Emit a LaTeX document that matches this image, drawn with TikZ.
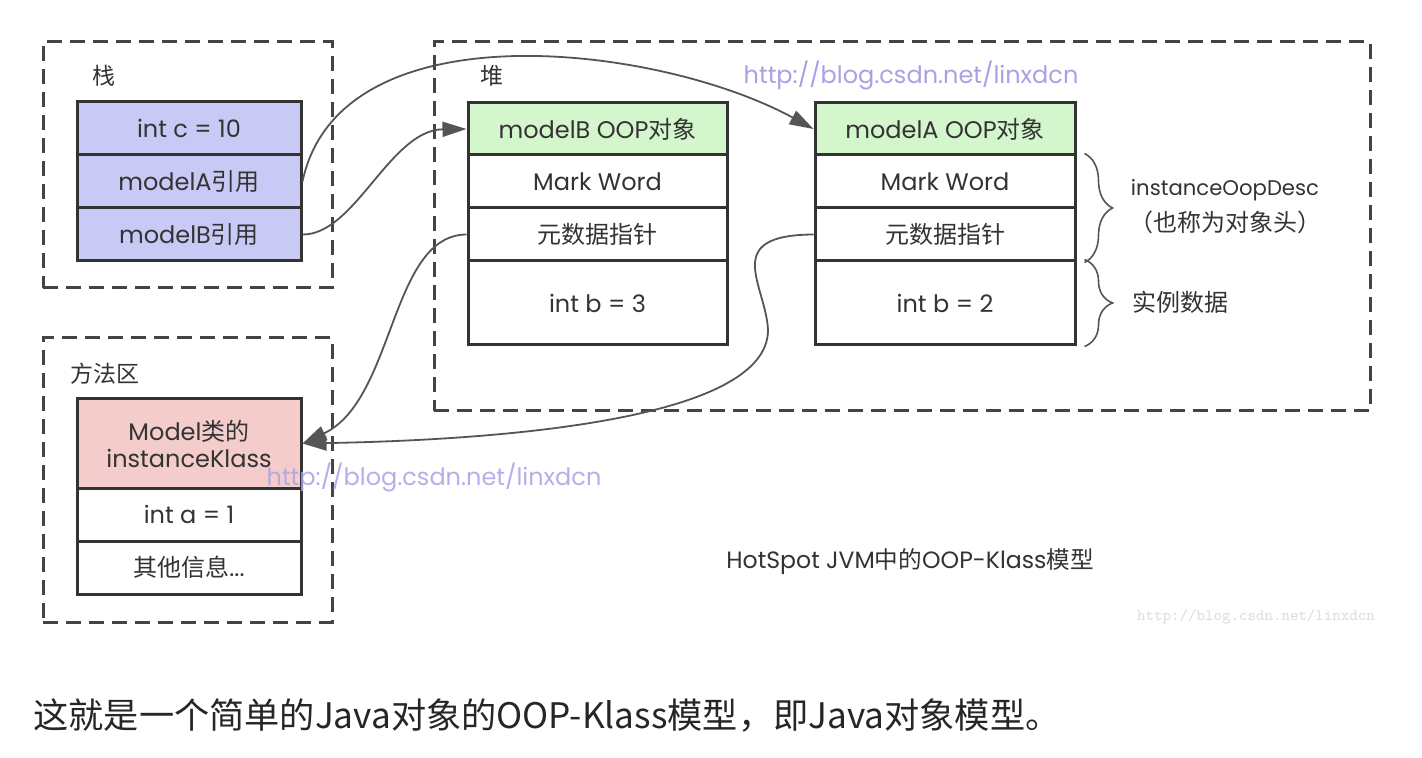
\documentclass[tikz,border=0pt]{standalone}
\usepackage{fontspec}
\setmainfont{Poppins}
\newfontfamily\cjk{Noto Sans CJK SC}
\usetikzlibrary{arrows.meta,decorations.pathreplacing}
\definecolor{txt}{HTML}{333333}
\definecolor{linec}{HTML}{333333}
\definecolor{dashc}{HTML}{444444}
\definecolor{linkc}{HTML}{555555}
\definecolor{stackc}{HTML}{C9C9F5}
\definecolor{oopc}{HTML}{D4F6CC}
\definecolor{klassc}{HTML}{F4CCCC}
\definecolor{wmc}{HTML}{A8A2E4}
\tikzset{
  cell/.style={draw=linec, line width=1.5pt, inner sep=0pt, text=txt, align=center,
    font=\fontsize{12}{13.5}\selectfont},
  region/.style={draw=dashc, line width=1.5pt, dash pattern=on 7.5pt off 4pt, inner sep=0pt},
  regionlabel/.style={text=txt, inner sep=0pt, font=\cjk\fontsize{11.5}{13}\selectfont},
  link/.style={draw=linkc, line width=0.9pt, -{Triangle[length=12pt,width=7.5pt]}},
  bracestyle/.style={draw=linkc, line width=0.8pt, decorate, decoration={brace, amplitude=14pt}},
  note/.style={text=txt, inner sep=0pt, font=\fontsize{12}{13.5}\selectfont},
  wm/.style={text=wmc, inner sep=0pt, font=\fontsize{12}{14}\selectfont},
}
\begin{document}
\begin{tikzpicture}[x=0.5pt,y=-0.5pt]
\useasboundingbox[fill=white] (0,0) rectangle (1422,758);

% regions
\node[region, minimum width=144.5pt, minimum height=123pt] (stack) at (187.5,165) {};
\node[region, minimum width=468pt, minimum height=184.5pt] (heap) at (902,226.5) {};
\node[region, minimum width=144.5pt, minimum height=142pt] (method) at (187.5,480) {};
\node[regionlabel] (stacklbl) at (104,76) {栈};
\node[regionlabel] (heaplbl) at (492,76) {堆};
\node[regionlabel] (methodlbl) at (105,374) {方法区};

% watermarks
\node[wm] (wm1) at (911,75) {http://blog.csdn.net/linxdcn};

% stack
\node[cell, fill=stackc, minimum width=112pt, minimum height=26.5pt] (sc) at (189,128.5) {int c = 10};
\node[cell, fill=stackc, minimum width=112pt, minimum height=26.5pt] (sa) at (189,181.5) {modelA{\cjk 引用}};
\node[cell, fill=stackc, minimum width=112pt, minimum height=26.5pt] (sb) at (189,234.5) {modelB{\cjk 引用}};

% heap: modelB
\node[cell, fill=oopc, minimum width=129.5pt, minimum height=26pt] (bh) at (597.5,129) {modelB OOP{\cjk 对象}};
\node[cell, fill=white, minimum width=129.5pt, minimum height=26.5pt] (bm) at (597.5,181.5) {Mark Word};
\node[cell, fill=white, minimum width=129.5pt, minimum height=26.5pt] (bp) at (597.5,234.5) {\cjk 元数据指针};
\node[cell, fill=white, minimum width=129.5pt, minimum height=42pt] (bd) at (597.5,303) {int b = 3};

% heap: modelA
\node[cell, fill=oopc, minimum width=130pt, minimum height=26pt] (ah) at (945,129) {modelA OOP{\cjk 对象}};
\node[cell, fill=white, minimum width=130pt, minimum height=26.5pt] (am) at (945,181.5) {Mark Word};
\node[cell, fill=white, minimum width=130pt, minimum height=26.5pt] (ap) at (945,234.5) {\cjk 元数据指针};
\node[cell, fill=white, minimum width=130pt, minimum height=42pt] (ad) at (945,303) {int b = 2};

% method area
\node[cell, fill=klassc, minimum width=112pt, minimum height=44.5pt] (kh) at (189,443.5) {Model{\cjk 类的}\\instanceKlass};
\node[cell, fill=white, minimum width=112pt, minimum height=26.5pt] (ka) at (189,514.5) {int a = 1};
\node[cell, fill=white, minimum width=112pt, minimum height=26.5pt] (ko) at (189,567.5) {{\cjk 其他信息}...};

% braces and notes
\draw[bracestyle] ([xshift=4pt]am.north east) -- ([xshift=4pt]ap.south east);
\draw[bracestyle] ([xshift=4pt]ad.north east) -- ([xshift=4pt]ad.south east);
\node[note, font=\fontsize{10.6}{12}\selectfont] (oopdesc) at (1225,190) {instanceOopDesc};
\node[note] (oophead) at (1225,222) {\cjk （也称为对象头）};
\node[note] (instdata) at (1180,302) {\cjk 实例数据};

% links
\coordinate (bend) at (768,330);
\draw[link] (sa.east) .. controls (340,5) and (660,45) .. (ah.west);
\draw[link] (sb.east) .. controls (355,235) and (390,130) .. (bh.west);
\draw[link] (bp.west) .. controls (390,235) and (395,400) .. (kh.east);
\draw[link] (ap.west) .. controls (720,235) and (766,285) .. (bend) .. controls (768,420) and (500,440) .. (kh.east);

% second watermark over the class box
\node[wm, opacity=0.85] (wm2) at (434,477) {http://blog.csdn.net/linxdcn};

% title and captions
\node[text=txt, inner sep=0pt, font=\fontsize{11.8}{13}\selectfont] (title) at (910,562) {HotSpot JVM{\cjk 中的}OOP-Klass{\cjk 模型}};
\node[text=black!13, inner sep=0pt, font=\ttfamily\fontsize{8}{9}\selectfont] (wm3) at (1256,617) {http://blog.csdn.net/linxdcn};
\node[text=black!85, anchor=west, inner sep=0pt, font=\cjk\fontsize{17.6}{20}\selectfont] (caption) at (33,715) {这就是一个简单的Java对象的OOP-Klass模型，即Java对象模型。};
\end{tikzpicture}
\end{document}
